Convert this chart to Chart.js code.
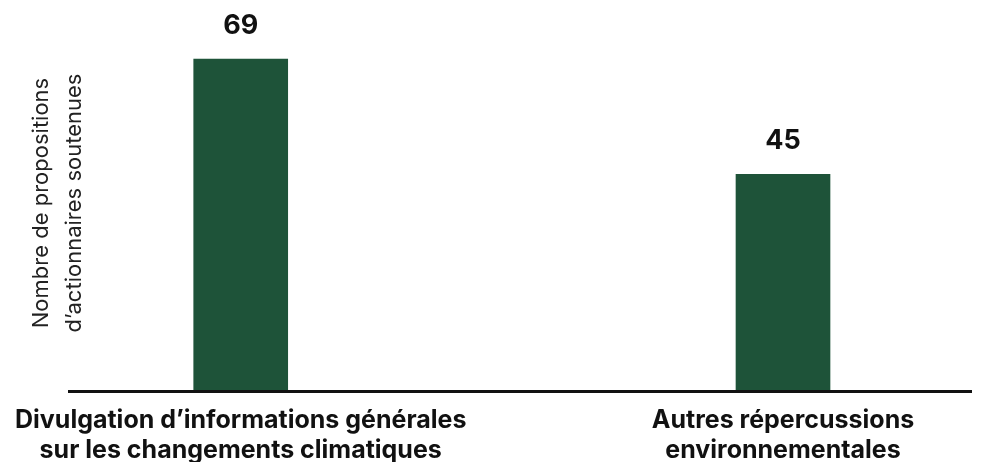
<!DOCTYPE html>
<html>
<head>
<meta charset="utf-8">
<script src="https://cdn.jsdelivr.net/npm/chart.js@4"></script>
<style>
  html, body { margin: 0; padding: 0; background: #fff; }
  #wrap { width: 986px; height: 462px; }
</style>
</head>
<body>
<div id="wrap"><canvas id="chart"></canvas></div>
<script>
// données
const categories = [
  ["Divulgation d’informations générales", "sur les changements climatiques"],
  ["Autres répercussions", "environnementales"]
];
const values = [69, 45];
const yTitle = ["Nombre de propositions", "d’actionnaires soutenues"];

const barColor = "#1e5339";
const fontFamily = "Inter, 'Noto Sans', sans-serif";

// ligne de base + valeurs au-dessus des barres
const extras = {
  id: "extras",
  afterDatasetsDraw(chart) {
    const ctx = chart.ctx;
    const y0 = chart.scales.y.getPixelForValue(0);
    ctx.save();
    ctx.strokeStyle = "#111";
    ctx.lineWidth = 3;
    ctx.beginPath();
    ctx.moveTo(68, y0 + 1.5);
    ctx.lineTo(972, y0 + 1.5);
    ctx.stroke();

    ctx.fillStyle = "#111";
    ctx.font = "bold 27px " + fontFamily;
    ctx.textAlign = "center";
    ctx.textBaseline = "middle";
    chart.getDatasetMeta(0).data.forEach((bar, i) => {
      ctx.fillText(String(values[i]), bar.x, bar.y - 33);
    });
    ctx.restore();
  }
};

new Chart(document.getElementById("chart"), {
  type: "bar",
  data: {
    labels: categories,
    datasets: [{
      data: values,
      backgroundColor: barColor,
      barThickness: 94,
      clip: false
    }]
  },
  options: {
    responsive: true,
    maintainAspectRatio: false,
    animation: false,
    layout: { padding: { left: 20, right: 203, top: 16, bottom: 0 } },
    plugins: { legend: { display: false }, tooltip: { enabled: false } },
    scales: {
      x: {
        offset: false,
        grid: { display: false, drawTicks: false },
        border: { display: false },
        ticks: {
          autoSkip: false,
          maxRotation: 0,
          padding: 15,
          color: "#111",
          font: { family: fontFamily, size: 25, weight: "bold", lineHeight: 1.2 }
        },
        afterFit(scale) { scale.height = 72; }
      },
      y: {
        min: 0,
        max: 78,
        grid: { display: false, drawTicks: false },
        border: { display: false },
        ticks: { display: false },
        title: {
          display: true,
          text: yTitle,
          color: "#222",
          padding: 0,
          font: { family: fontFamily, size: 22, lineHeight: 1.5 }
        },
        afterFit(scale) { scale.width = 216; }
      }
    }
  },
  plugins: [extras]
});
</script>
</body>
</html>
